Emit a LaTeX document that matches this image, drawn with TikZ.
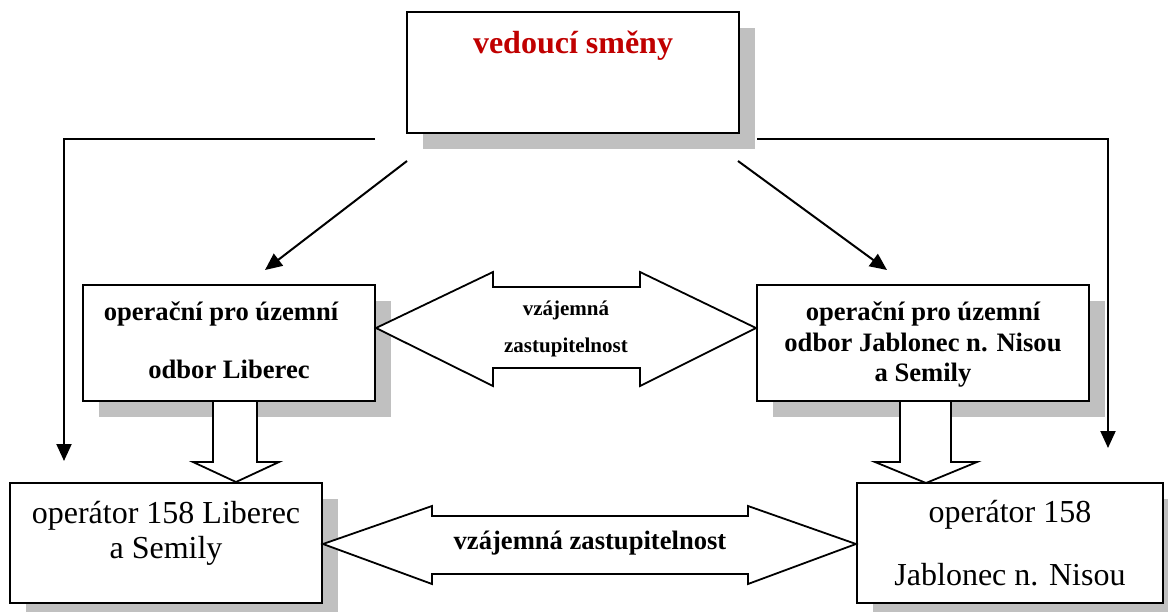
\documentclass[tikz,border=0pt]{standalone}
\usepackage{fontspec}
\setmainfont{Liberation Serif}
\usetikzlibrary{arrows.meta,shadows}
\definecolor{shgray}{RGB}{192,192,192}
\definecolor{headred}{RGB}{192,0,0}
\begin{document}
\begin{tikzpicture}[x=0.5pt,y=-0.5pt,
  box/.style={draw=black,line width=1pt,fill=white,inner sep=0pt,
    drop shadow={shadow xshift=8pt,shadow yshift=-8pt,fill=shgray,opacity=1}},
  lbl/.style={anchor=base,inner sep=0pt},
  big/.style={font=\fontsize{16}{19}\selectfont},
  bigbold/.style={font=\fontsize{16}{19}\selectfont\bfseries,text=headred},
  mid/.style={font=\fontsize{13.3}{16}\selectfont\bfseries},
  small/.style={font=\fontsize{10.5}{12}\selectfont\bfseries},
  conn/.style={line width=1pt,-{Triangle[length=8.5pt,width=7.5pt]}},
  blockarrow/.style={draw=black,line width=0.9pt,fill=white,line join=miter}]
\useasboundingbox (0,0) rectangle (1168,611);
\clip (0,0) rectangle (1168,611);

% boxes
\node[box,minimum width=332*0.5pt,minimum height=121*0.5pt] (top) at (573,72.5) {};
\node[box,minimum width=292*0.5pt,minimum height=116*0.5pt] (opL) at (229,343) {};
\node[box,minimum width=332*0.5pt,minimum height=116*0.5pt] (opR) at (923,343) {};
\node[box,minimum width=312*0.5pt,minimum height=120*0.5pt] (botL) at (166,543) {};
\node[box,minimum width=306*0.5pt,minimum height=120*0.5pt] (botR) at (1010,543) {};

% texts
\node[lbl,bigbold] (ttop) at (573,53) {vedoucí směny};
\node[lbl,mid] (tL1) at (221,320) {operační pro územní};
\node[lbl,mid] (tL2) at (229,378) {odbor Liberec};
\node[lbl,mid] (tR1) at (923,320) {operační pro územní};
\node[lbl,mid] (tR2) at (923,351) {odbor Jablonec n. Nisou};
\node[lbl,mid] (tR3) at (923,381) {a Semily};
\node[lbl,big] (bL1) at (166,523) {operátor 158 Liberec};
\node[lbl,big] (bL2) at (166,558) {a Semily};
\node[lbl,big] (bR1) at (1010,522) {operátor 158};
\node[lbl,big] (bR2) at (1010,585) {Jablonec n. Nisou};

% line connectors
\coordinate (lS) at (375,139);
\coordinate (lC) at (64,139);
\coordinate (lE) at (64,461);
\coordinate (rS) at (757,139);
\coordinate (rC) at (1108,139);
\coordinate (rE) at (1108,448);
\draw[conn] (lS) -- (lC) -- (lE);
\draw[conn] (rS) -- (rC) -- (rE);
\coordinate (dlS) at (407,161);
\coordinate (dlE) at (265,270);
\coordinate (drS) at (738,161);
\coordinate (drE) at (887,270);
\draw[conn] (dlS) -- (dlE);
\draw[conn] (drS) -- (drE);

% block arrows down
\path[blockarrow] (213,402) -- (213,462) -- (193,462) -- (236,482) -- (279,462) -- (257,462) -- (257,402);
\path[blockarrow] (900,402) -- (900,462) -- (875,462) -- (926,483) -- (977,462) -- (951,462) -- (951,402);

% double arrows
\path[blockarrow] (opL.east |- 0,328) -- (493,272) -- (493,287) -- (640,287) -- (640,272)
  -- (opR.west |- 0,328) -- (640,386) -- (640,368) -- (493,368) -- (493,386) -- cycle;
\node[lbl,small] (m1) at (566,315) {vzájemná};
\node[lbl,small] (m2) at (566,352) {zastupitelnost};

\path[blockarrow] (botL.east |- 0,544) -- (432,506) -- (432,516) -- (748,516) -- (748,506)
  -- (botR.west |- 0,544) -- (748,584) -- (748,574) -- (432,574) -- (432,584) -- cycle;
\node[lbl,mid] (b1) at (590,549) {vzájemná zastupitelnost};
\end{tikzpicture}
\end{document}
